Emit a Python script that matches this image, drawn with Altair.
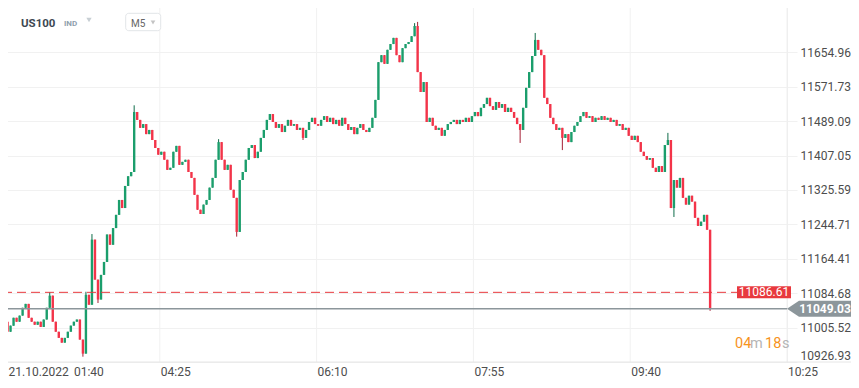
import altair as alt
import pandas as pd

# ---- data (US100, M5) ----
first_open = 11024
closes = [
    11019, 10996, 11010, 11028, 11019, 11033, 11051, 11060, 11028, 11019,
    11012, 11019, 11007, 11024, 11051, 11079, 11019, 10996, 10982, 10971,
    10982, 10996, 11010, 11019, 11024, 10978, 10946, 11081, 11058, 11209,
    11116, 11070, 11127, 11157, 11221, 11197, 11236, 11267, 11302, 11283,
    11335, 11358, 11368, 11511, 11492, 11473, 11482, 11458, 11468, 11444,
    11425, 11409, 11416, 11397, 11373, 11378, 11416, 11430, 11385, 11392,
    11397, 11368, 11354, 11314, 11279, 11269, 11291, 11302, 11331, 11354,
    11397, 11439, 11397, 11373, 11385, 11326, 11307, 11227, 11349, 11368,
    11397, 11425, 11432, 11401, 11416, 11449, 11468, 11492, 11506, 11487,
    11473, 11482, 11463, 11478, 11492, 11478, 11482, 11468, 11473, 11449,
    11468, 11487, 11497, 11482, 11478, 11492, 11501, 11487, 11497, 11482,
    11492, 11478, 11497, 11482, 11468, 11475, 11458, 11473, 11482, 11468,
    11463, 11473, 11497, 11540, 11631, 11648, 11627, 11661, 11675, 11690,
    11648, 11631, 11665, 11675, 11680, 11694, 11719, 11607, 11559, 11583,
    11487, 11497, 11478, 11468, 11473, 11454, 11468, 11482, 11487, 11492,
    11482, 11492, 11487, 11497, 11487, 11501, 11511, 11501, 11521, 11530,
    11545, 11525, 11516, 11535, 11521, 11530, 11511, 11521, 11511, 11497,
    11482, 11468, 11521, 11569, 11607, 11646, 11685, 11661, 11648, 11545,
    11530, 11497, 11482, 11468, 11473, 11449, 11458, 11439, 11463, 11478,
    11487, 11501, 11511, 11497, 11501, 11487, 11497, 11492, 11501, 11492,
    11497, 11487, 11492, 11478, 11482, 11468, 11473, 11454, 11444, 11454,
    11439, 11416, 11406, 11397, 11401, 11378, 11368, 11382, 11368, 11432,
    11444, 11283, 11349, 11331, 11354, 11307, 11291, 11312, 11298, 11260,
    11241, 11251, 11267, 11232, 11049.03,
]
wick_high = {15: 11087, 27: 11088, 29: 11222, 43: 11527, 71: 11446, 136: 11726,
             137: 11729, 176: 11702, 220: 11461}
wick_low = {26: 10939, 31: 11062, 77: 11216, 99: 11444, 171: 11437, 185: 11420,
            222: 11262, 234: 11044}

y_ticks = [10926.93, 11005.52, 11084.68, 11164.41, 11244.71, 11325.59,
           11407.05, 11489.09, 11571.73, 11654.96]
y_top = 11782.6
date_label = "21.10.2022"
x_tick_pos = [23.2, 52, 104, 156, 208, 260]
x_tick_labels = ["01:40", "04:25", "06:10", "07:55", "09:40", "10:25"]
x_grid_pos = [0, 52, 104, 156, 208, 260]
ref_price = 11086.61
last_price = 11049.03

# ---- table ----
rows = []
prev = first_open
for i, c in enumerate(closes):
    o = prev
    hi = max(o, c, wick_high.get(i, c))
    lo = min(o, c, wick_low.get(i, c))
    rows.append(dict(xm=i + 0.5, open=o, close=c, high=hi, low=lo))
    prev = c
df = pd.DataFrame(rows)

W, H = 784, 362
GRID = "#f1f1f1"
FONT = "Roboto"
GREEN, RED = "#1b9e6c", "#f33449"
DGREEN, DRED = "#0e6c49", "#a51e34"

X = alt.Scale(domain=[0, 260], nice=False, zero=False, padding=0)
Y = alt.Scale(type="log", domain=[y_ticks[0], y_top], nice=False, zero=False, padding=0)

yaxis = alt.Axis(orient="right", values=y_ticks, format=".2f", grid=True,
                 gridColor=GRID, gridWidth=1, tickSize=10, tickColor=GRID,
                 domain=True, domainColor="#ececec", labelFont=FONT,
                 labelFontSize=12, labelColor="#4d4d4d", labelPadding=3,
                 labelFlush=True, title=None)

vgrid = alt.Chart(pd.DataFrame({"g": x_grid_pos})).mark_rule(
    color=GRID, strokeWidth=1).encode(
    x=alt.X("g:Q", scale=X, axis=None), y=alt.value(0), y2=alt.value(H))

wicks = alt.Chart(df).mark_rule(strokeWidth=1).encode(
    x=alt.X("xm:Q", scale=X, axis=None),
    y=alt.Y("low:Q", scale=Y, axis=yaxis),
    y2="high:Q",
    color=alt.condition("datum.close >= datum.open", alt.value(DGREEN), alt.value(DRED)),
)
bodies = alt.Chart(df).mark_bar(size=2.4).encode(
    x=alt.X("xm:Q", scale=X, axis=None),
    y=alt.Y("open:Q", scale=Y),
    y2="close:Q",
    color=alt.condition("datum.close >= datum.open", alt.value(GREEN), alt.value(RED)),
)

one = pd.DataFrame({"a": [0]})
bottom_line = alt.Chart(one).mark_rule(color="#e6e6e6", strokeWidth=1).encode(
    x=alt.value(-10), x2=alt.value(870), y=alt.value(H))

ref_df = pd.DataFrame({"p": [ref_price]})
last_df = pd.DataFrame({"p": [last_price]})
ref_line = alt.Chart(ref_df).mark_rule(color="#e8393e", strokeWidth=1, strokeDash=[9, 5]).encode(
    y=alt.Y("p:Q", scale=Y), x=alt.value(0), x2=alt.value(734))
last_line = alt.Chart(last_df).mark_rule(color="#8c969b", strokeWidth=1.5).encode(
    y=alt.Y("p:Q", scale=Y), x=alt.value(0), x2=alt.value(784))

ref_box = alt.Chart(ref_df).mark_point(
    shape="M-4.5,-1L4.5,-1L4.5,1L-4.5,1Z", size=144, filled=True, opacity=1,
    color="#e8393e", strokeWidth=0).encode(y=alt.Y("p:Q", scale=Y), x=alt.value(761))
ref_txt = alt.Chart(ref_df).mark_text(
    font=FONT, fontSize=12, color="white", align="center", baseline="middle").encode(
    y=alt.Y("p:Q", scale=Y), x=alt.value(761), text=alt.Text("p:Q", format=".2f"))

last_box = alt.Chart(last_df).mark_point(
    shape="M-4.125,0L-2.625,-1L4.125,-1L4.125,1L-2.625,1Z", size=256, filled=True,
    opacity=1, color="#8c969b", strokeWidth=0).encode(y=alt.Y("p:Q", scale=Y), x=alt.value(817))
last_txt = alt.Chart(last_df).mark_text(
    font=FONT, fontSize=12, fontWeight="bold", color="white", align="center",
    baseline="middle").encode(
    y=alt.Y("p:Q", scale=Y), x=alt.value(822), text=alt.Text("p:Q", format=".2f"))

xlab = alt.Chart(pd.DataFrame({"pos": x_tick_pos, "lab": x_tick_labels})).mark_text(
    font=FONT, fontSize=12, color="#4d4d4d", align="left", baseline="alphabetic", dx=1).encode(
    x=alt.X("pos:Q", scale=X, axis=None), y=alt.value(376), text="lab:N")

def txt(s, x, y, size, color, weight="normal", align="left"):
    return alt.Chart(one).mark_text(text=s, font=FONT, fontSize=size, color=color,
                                    fontWeight=weight, align=align,
                                    baseline="alphabetic").encode(
        x=alt.value(x), y=alt.value(y))

m5_box = alt.Chart(one).mark_rect(fill="white", stroke="#e2e5e8", strokeWidth=1,
                                  cornerRadius=3).encode(
    x=alt.value(122.7), x2=alt.value(157.7), y=alt.value(13.3), y2=alt.value(30.7))
tri1 = alt.Chart(one).mark_point(shape="triangle-down", filled=True, size=28,
                                 color="#c8cfd4", opacity=1).encode(
    x=alt.value(86), y=alt.value(20))
tri2 = alt.Chart(one).mark_point(shape="triangle-down", filled=True, size=22,
                                 color="#c4c4c4", opacity=1).encode(
    x=alt.value(150), y=alt.value(22.5))

layers = [
    vgrid, wicks, bodies, bottom_line, ref_line, last_line,
    ref_box, ref_txt, last_box, last_txt, xlab,
    txt(date_label, 5.5, 376, 12, "#4d4d4d"),
    txt("04", 732, 348, 14.5, "#f7931e"), txt("m", 747, 348, 14.5, "#b5b5b5"),
    txt("18", 762, 348, 14.5, "#f7931e"), txt("s", 779, 348, 14.5, "#b5b5b5"),
    m5_box, tri1, tri2,
    txt("US100", 18, 27.3, 11.5, "#3d4852", "bold"),
    txt("IND", 61, 26, 8, "#8fa0ad", "bold"),
    txt("M5", 128, 26.5, 10, "#666666"),
]

chart = alt.layer(*layers).properties(
    width=W, height=H,
    autosize=alt.AutoSizeParams(type="none"),
    padding={"left": -5, "top": -8, "right": 64, "bottom": 18},
).configure_view(stroke=None).configure(background="white")

chart.save("out.html", embed_options={"renderer": "svg", "actions": False})
